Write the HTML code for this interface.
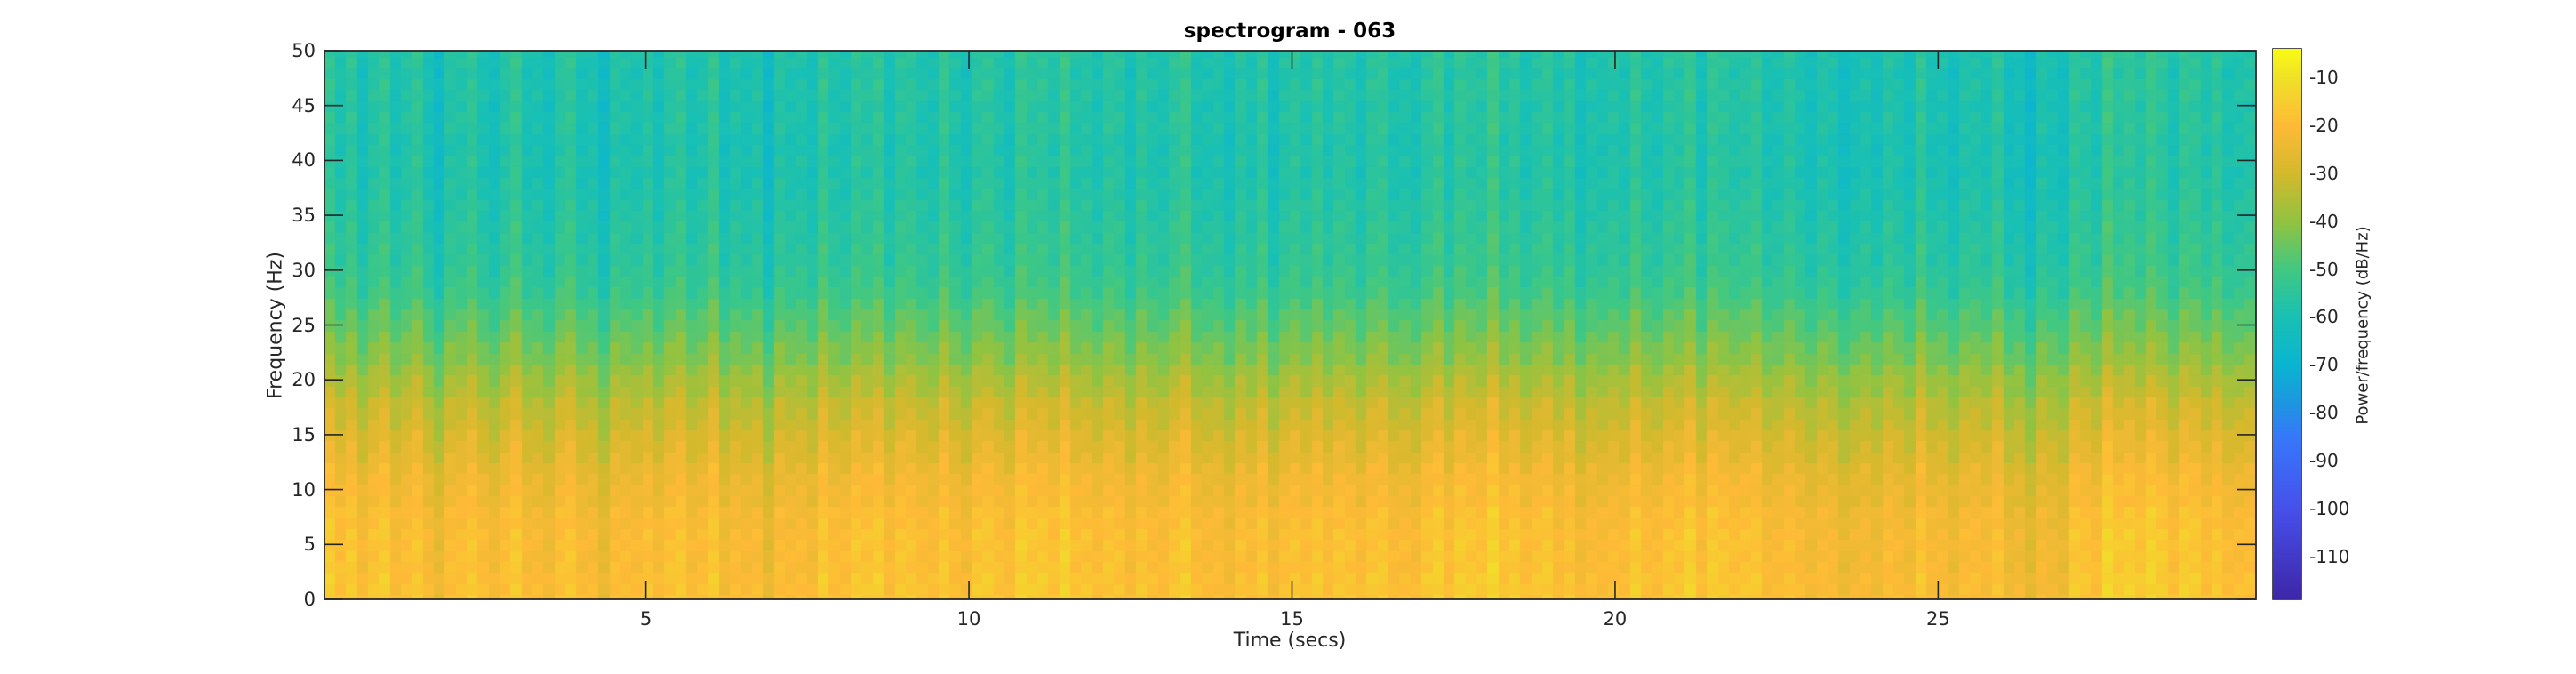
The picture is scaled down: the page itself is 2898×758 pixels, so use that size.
<!DOCTYPE html>
<html><head><meta charset="utf-8"><style>
body{margin:0;background:#fff;width:2898px;height:758px;overflow:hidden;position:relative;font-family:"DejaVu Sans","Liberation Sans",sans-serif;color:#262626}
.a{position:absolute;white-space:nowrap}
.yt{position:absolute;font-size:21px;text-align:right;width:60px;transform:translateY(-50%)}
.xt{position:absolute;font-size:21px;transform:translateX(-50%)}
.ct{position:absolute;font-size:20px;transform:translateY(-50%)}
</style></head><body>
<div class="a" style="left:1451px;top:22px;transform:translateX(-50%);font-weight:bold;font-size:23px;color:#000">spectrogram - 063</div>
<canvas id="spec" width="2173" height="617" style="position:absolute;left:365px;top:57px"></canvas>
<svg id="ax" width="2898" height="758" style="position:absolute;left:0;top:0"></svg>
<canvas id="cb" width="32" height="619" style="position:absolute;left:2557px;top:55px"></canvas>
<div id="labels"></div>
<div class="a" style="left:1451px;top:708px;transform:translateX(-50%);font-size:22px">Time (secs)</div>
<div class="a" style="left:310px;top:366px;transform:translate(-50%,-50%) rotate(-90deg);font-size:22px">Frequency (Hz)</div>
<div class="a" style="left:2658px;top:366px;transform:translate(-50%,-50%) rotate(-90deg);font-size:18px">Power/frequency (dB/Hz)</div>
<script>
const freqProfile=[-19,-19,-19,-20,-20,-20,-20,-21,-21,-23,-23,-24,-25,-27,-28,-29,-31,-32,-33,-36,-37,-39,-42,-43,-45,-47,-48,-50,-52,-53,-54,-55,-55,-56,-56,-57,-57,-58,-58,-59,-58,-59,-59,-58,-58,-59,-58,-58,-59,-58,-58];
const slowOffset=[3,2,0,-1,1,0,-1,0,-2,0,1,0,-1,-2,-1,1,2,2,1,0,2,3,3,2,1,0,1,-1,0,1,1,2,1,0,2,3,3,2,0,-1,1,2,3,2,0,-1,-2,-3,-2,-1,-2,-1,-3,-4,2,4,4,3,1,0];
const fineOffset=[2,-3,1,-5,0,3,-2,1,4,-1,-6,2,0,3,-2,-4,1,5,-1,0,-3,2,4,-2,1,-5,3,0,-1,2,-4,1,3,-2,0,5,-3,1,-1,2,-6,3,0,1,-2,4,-1,-3,2,0,3,-4,1,2,-1,-2,5,0,-3,1,2,-1,-5,3,0,1,-2,4,-1,0,-3,2,1,-4,3,0,-1,2,5,-2,0,1,-3,2,-1,4,-5,0,2,-1,3,-2,1,0,-4,2,3,-1,0,-2,1,4,-3,2,0,-1,5,-2,1,-3,0,2,-1,3,-4,1,0,2,-2,4,-1,-3,1,0,3,-5,2,1,-1,0,4,-2,-1,3,0,-3,2,1,-4,0,2,-1,3,1,-2,5,-1,0,-3,2,1,-1,4,-2,0,-6,3,1,-1,2,0,-3,4,-1,1,-2,3,0,-4,2,1,-1,3,-2,0,1];
const xTicks=[5,10,15,20,25];
const yTicks=[0,5,10,15,20,25,30,35,40,45,50];
const cTicks=[-10,-20,-30,-40,-50,-60,-70,-80,-90,-100,-110];
const T0=0.025,T1=29.92,CMIN=-119,CMAX=-4;
const PL=365,PT=57,PW=2173,PH=617;
const xs=t=>PL+(t-T0)/(T1-T0)*PW;
const ys=f=>PT+PH-(f/50)*PH;
const stops=[[-119,62,38,168],[-100,70,80,235],[-85,55,120,250],[-78,30,150,225],[-70,10,180,210],[-60,25,192,180],[-50,65,200,130],[-40,145,195,65],[-30,212,185,45],[-20,254,186,55],[-10,240,225,40],[-4,249,251,20]];
function parula(v){v=Math.max(CMIN,Math.min(CMAX,v));
for(let i=1;i<stops.length;i++){if(v<=stops[i][0]){const a=stops[i-1],b=stops[i],k=(v-a[0])/(b[0]-a[0]);
return `rgb(${Math.round(a[1]+k*(b[1]-a[1]))},${Math.round(a[2]+k*(b[2]-a[2]))},${Math.round(a[3]+k*(b[3]-a[3]))})`;}}return 'rgb(249,251,20)';}
// heatmap
const sc=document.getElementById('spec').getContext('2d');
const nT=fineOffset.length,dt=(T1-T0)/nT;
for(let i=0;i<nT;i++){const t=T0+i*dt;const si=Math.min(slowOffset.length-1,Math.floor(t/0.5));
for(let f=0;f<freqProfile.length;f++){const fl=Math.max(0,f-0.5),fh=Math.min(50,f+0.5);
const w=f<20?1:0.8;const v=freqProfile[f]+slowOffset[si]*w+fineOffset[i]*(f<12?0.7:1)+((f*7+i*3)%5-2)*0.8;
sc.fillStyle=parula(v);const x0=xs(t)-PL,x1=xs(t+dt)-PL;
sc.fillRect(Math.floor(x0),Math.floor(ys(fh)-PT),Math.ceil(x1-x0)+1,Math.ceil(ys(fl)-ys(fh))+1);}}
// colorbar
const cc=document.getElementById('cb').getContext('2d');
for(let y=0;y<619;y++){const v=CMAX-(y/619)*(CMAX-CMIN);cc.fillStyle=parula(v);cc.fillRect(0,y,32,1);}
// axes
const NS='http://www.w3.org/2000/svg',svg=document.getElementById('ax'),lab=document.getElementById('labels');
function ln(x1,y1,x2,y2,name){const l=document.createElementNS(NS,'line');l.setAttribute('x1',x1);l.setAttribute('y1',y1);l.setAttribute('x2',x2);l.setAttribute('y2',y2);l.setAttribute('stroke','#262626');l.setAttribute('stroke-width','1.6');


svg.appendChild(l);}
const r=document.createElementNS(NS,'rect');r.setAttribute('x',PL);r.setAttribute('y',PT);r.setAttribute('width',PW);r.setAttribute('height',PH);r.setAttribute('fill','none');r.setAttribute('stroke','#262626');r.setAttribute('stroke-width','1.8');


svg.appendChild(r);
const r2=document.createElementNS(NS,'rect');r2.setAttribute('x',2557);r2.setAttribute('y',55);r2.setAttribute('width',32);r2.setAttribute('height',619);r2.setAttribute('fill','none');r2.setAttribute('stroke','#262626');r2.setAttribute('stroke-width','1.6');


svg.appendChild(r2);
xTicks.forEach(t=>{const x=xs(t);ln(x,PT+PH,x,PT+PH-21,'x-tick');ln(x,PT,x,PT+21,'x-tick-top');
const d=document.createElement('div');d.className='xt';d.style.left=x+'px';d.style.top=(PT+PH+10)+'px';d.textContent=t;


lab.appendChild(d);});
yTicks.forEach(f=>{const y=ys(f);ln(PL,y,PL+21,y,'y-tick');ln(PL+PW,y,PL+PW-21,y,'y-tick-right');
const d=document.createElement('div');d.className='yt';d.style.left=(PL-70)+'px';d.style.top=y+'px';d.textContent=f;


lab.appendChild(d);});
cTicks.forEach(v=>{const y=55+(CMAX-v)/(CMAX-CMIN)*619;ln(2589,y,2582,y,'colorbar-tick');
const d=document.createElement('div');d.className='ct';d.style.left='2598px';d.style.top=y+'px';d.textContent=v;


lab.appendChild(d);});
</script>
</body></html>
